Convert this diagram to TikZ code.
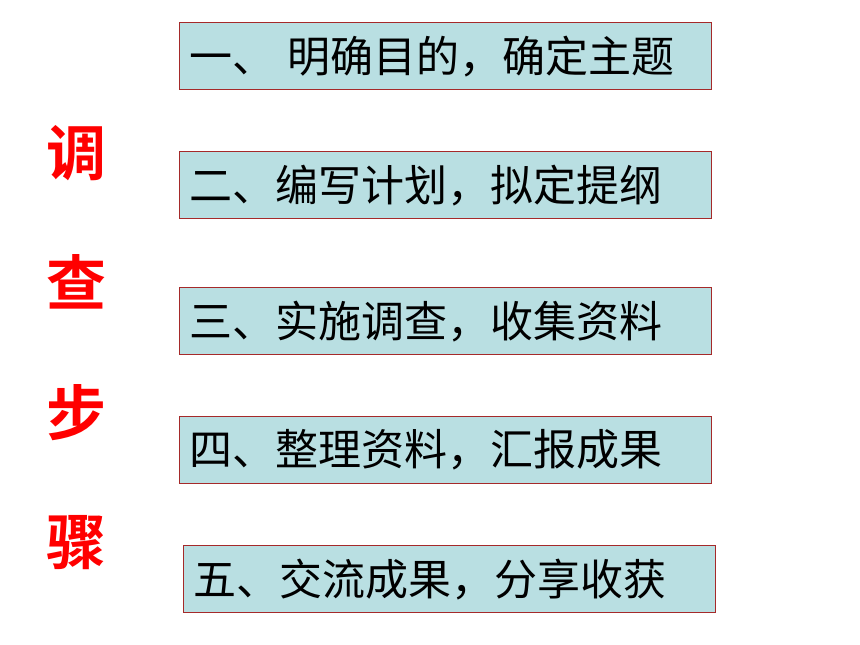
\documentclass[tikz,border=0pt]{standalone}
\usepackage{fontspec}
\newfontfamily\cjk{Noto Sans CJK SC}
\newfontfamily\cjkb{Noto Sans CJK SC}[BoldFont=* Bold]
\definecolor{boxfill}{HTML}{B9DFE2}
\definecolor{boxline}{HTML}{A52A2A}
\tikzset{
  stepbox/.style={draw=boxline, line width=1.2pt, fill=boxfill, minimum width=532pt, minimum height=67pt, inner sep=0pt},
  steptext/.style={anchor=west, inner sep=0pt, font=\cjk\fontsize{43}{43}\selectfont, text=black},
  redchar/.style={inner sep=0pt, font=\cjkb\bfseries\fontsize{60}{60}\selectfont, text=red}
}
\begin{document}
\begin{tikzpicture}[x=1pt,y=1pt]
\useasboundingbox (0,0) rectangle (860,645);
% boxes (y = 645 - pixel y)
\node[stepbox, anchor=north west] (b1) at (179,623) {};
\node[stepbox, anchor=north west] (b2) at (179,494) {};
\node[stepbox, anchor=north west] (b3) at (179,358) {};
\node[stepbox, anchor=north west] (b4) at (179,229) {};
\node[stepbox, anchor=north west] (b5) at (183,100) {};
\node[steptext] (t1) at ([xshift=10pt]b1.west) {一、\hspace{12pt}明确目的，确定主题};
\node[steptext] (t2) at ([xshift=10pt]b2.west) {二、编写计划，拟定提纲};
\node[steptext] (t3) at ([xshift=10pt]b3.west) {三、实施调查，收集资料};
\node[steptext] (t4) at ([xshift=10pt]b4.west) {四、整理资料，汇报成果};
\node[steptext] (t5) at ([xshift=10pt]b5.west) {五、交流成果，分享收获};
% red vertical title
\node[redchar] (r1) at (76,492) {调};
\node[redchar] (r2) at (76,363) {查};
\node[redchar] (r3) at (76,232) {步};
\node[redchar] (r4) at (76,102) {骤};
\end{tikzpicture}
\end{document}
